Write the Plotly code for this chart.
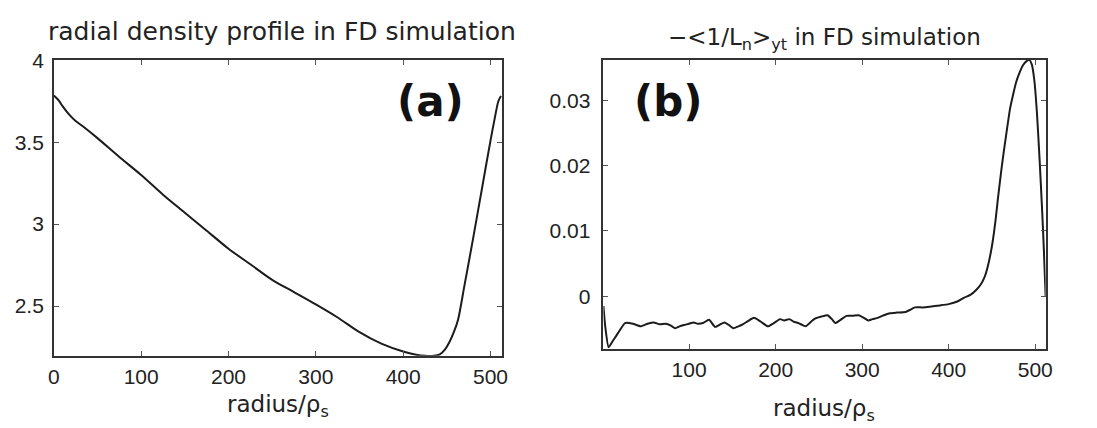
import plotly.graph_objects as go

W, H = 1097, 428
OFF = 8  # page body margin of the html page shifts the figure by this many pixels

# ---- data: panel (a) radial density profile ----
radius_a = [0, 3, 6, 10, 15, 20, 25, 35, 50, 75, 100, 125, 150, 175, 200, 225, 250, 275,
            300, 325, 350, 375, 400, 415, 425, 435, 442, 448, 453, 458, 463, 470, 480,
            490, 500, 505, 509, 512]
density_a = [3.785, 3.77, 3.752, 3.72, 3.685, 3.655, 3.630, 3.59, 3.525, 3.41, 3.30, 3.18,
             3.07, 2.96, 2.85, 2.755, 2.66, 2.585, 2.51, 2.43, 2.34, 2.27, 2.222, 2.203,
             2.196, 2.196, 2.205, 2.235, 2.28, 2.34, 2.42, 2.62, 2.91, 3.21, 3.51, 3.65,
             3.75, 3.783]

# ---- data: panel (b) -<1/L_n>_yt ----
radius_b = [1, 3, 7, 12, 18, 26, 35, 44, 52, 59, 66, 73, 79, 84, 89, 94, 100, 105, 110, 116,
            123, 130, 136, 141, 146, 151, 157, 162, 168, 175, 183, 191, 198, 205, 210, 216,
            221, 226, 231, 235, 240, 246, 253, 260, 265, 269, 275, 282, 289, 296, 302, 307,
            312, 318, 325, 332, 340, 350, 355, 361, 370, 378, 390, 400, 410, 418, 425, 432,
            437, 441, 445, 450, 454, 457, 461, 464, 468, 471, 475, 478, 482, 486, 490, 493,
            496, 499, 502, 505, 508, 510, 512]
gradient_b = [-0.0015, -0.0045, -0.0078, -0.0068, -0.0056, -0.0041, -0.0042, -0.0046, -0.0042,
              -0.0040, -0.0043, -0.0042, -0.0045, -0.0049, -0.0046, -0.0044, -0.0042, -0.0040,
              -0.0042, -0.0041, -0.0036, -0.0047, -0.0043, -0.0040, -0.0044, -0.0049, -0.0046,
              -0.0043, -0.0038, -0.0033, -0.0039, -0.0046, -0.0041, -0.0035, -0.0037, -0.0035,
              -0.0039, -0.0041, -0.0044, -0.0046, -0.0040, -0.0034, -0.0031, -0.0029, -0.0035,
              -0.0041, -0.0036, -0.0030, -0.0030, -0.0029, -0.0033, -0.0037, -0.0035, -0.0033,
              -0.0029, -0.0026, -0.0025, -0.0024, -0.0021, -0.0017, -0.0017, -0.0016, -0.0014,
              -0.0012, -0.0008, -0.0002, 0.0002, 0.0010, 0.0018, 0.0028, 0.0045, 0.0077, 0.0115,
              0.0151, 0.0195, 0.0225, 0.0262, 0.0288, 0.0312, 0.0328, 0.0343, 0.0354, 0.0360,
              0.0362, 0.0355, 0.0330, 0.0280, 0.0210, 0.0130, 0.0070, 0.0000]

xticks_a = [0, 100, 200, 300, 400, 500]
yticks_a = [2.5, 3, 3.5, 4]
ytick_labels_a = ["2.5", "3", "3.5", "4"]
xticks_b = [100, 200, 300, 400, 500]
yticks_b = [0, 0.01, 0.02, 0.03]
ytick_labels_b = ["0", "0.01", "0.02", "0.03"]

title_a = "radial density profile in FD simulation"
title_b = "\u2212&lt;1/L<sub>n</sub>&gt;<sub>yt</sub> in FD simulation"
xlabel = "radius/\u03c1<sub>s</sub>"

def px_x(p):
    return (p - OFF) / W

def px_y(p):
    return 1 - (p - OFF) / H

fig = go.Figure()
fig.add_trace(go.Scatter(x=radius_a, y=density_a, mode="lines",
                         line=dict(color="#1c1c1c", width=2, shape="spline", smoothing=0.8),
                         xaxis="x", yaxis="y", showlegend=False))
fig.add_trace(go.Scatter(x=radius_b, y=gradient_b, mode="lines",
                         line=dict(color="#1c1c1c", width=2, shape="spline", smoothing=0.5),
                         xaxis="x2", yaxis="y2", showlegend=False))

tick_font = dict(family="Liberation Sans, Arial, sans-serif", size=21, color="#222")
axis_common = dict(showline=True, linecolor="#333", linewidth=1.5, mirror="ticks",
                   ticks="inside", ticklen=5, tickcolor="#555", tickwidth=1,
                   showgrid=False, zeroline=False, tickfont=tick_font)

fig.update_layout(
    width=W, height=H,
    margin=dict(l=0, r=0, t=0, b=0),
    paper_bgcolor="white", plot_bgcolor="white",
    xaxis=dict(domain=[px_x(48.3), px_x(501.7)], range=[0, 513], tickvals=xticks_a,
               anchor="y", ticklabelstandoff=1, **axis_common),
    yaxis=dict(domain=[px_y(353.5), px_y(49.5)], range=[2.196, 4.0], tickvals=yticks_a,
               ticktext=ytick_labels_a, anchor="x", ticklabelstandoff=4, **axis_common),
    xaxis2=dict(domain=[px_x(604.5), px_x(1052)], range=[1, 512], tickvals=xticks_b,
                anchor="y2", ticklabelstandoff=2, **axis_common),
    yaxis2=dict(domain=[px_y(346), px_y(49)], range=[-0.0080, 0.0362], tickvals=yticks_b,
                ticktext=ytick_labels_b, anchor="x2", ticklabelstandoff=7, **axis_common),
)

title_font_a = dict(family="DejaVu Sans, sans-serif", size=25, color="#222")
title_font_b = dict(family="DejaVu Sans, sans-serif", size=23, color="#222")
xlabel_font = dict(family="DejaVu Sans, sans-serif", size=23, color="#222")
label_font = dict(family="DejaVu Sans, sans-serif", size=42, color="#111", weight="bold")

annotations = [
    dict(text=title_a, x=px_x(279), y=px_y(20), font=title_font_a),
    dict(text=title_b, x=px_x(828), y=px_y(28), font=title_font_b),
    dict(text=xlabel, x=px_x(275), y=px_y(405), font=xlabel_font),
    dict(text=xlabel, x=px_x(828), y=px_y(409), font=xlabel_font),
    dict(text="(a)", x=px_x(429), y=px_y(92), font=label_font),
    dict(text="(b)", x=px_x(670), y=px_y(92), font=label_font),
]
for a in annotations:
    a.update(xref="paper", yref="paper", showarrow=False, xanchor="center", yanchor="middle")
fig.update_layout(annotations=annotations)

fig.write_html("out.html")
